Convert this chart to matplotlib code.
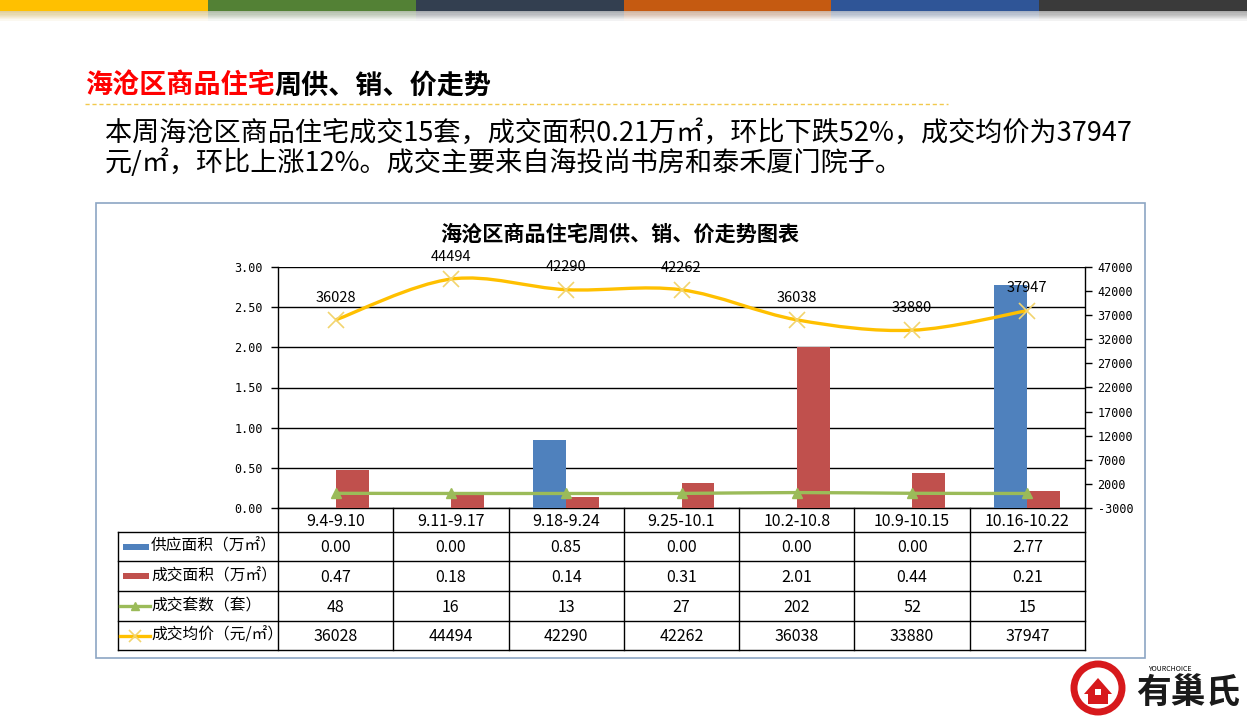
import numpy as np
import matplotlib
matplotlib.use('Agg')
import matplotlib.pyplot as plt
from matplotlib.path import Path
from matplotlib.patches import PathPatch, Rectangle, Circle, Polygon

plt.rcParams['font.family'] = ['Noto Sans CJK SC', 'DejaVu Sans']

# %% data
weeks = ['9.4-9.10', '9.11-9.17', '9.18-9.24', '9.25-10.1', '10.2-10.8', '10.9-10.15', '10.16-10.22']
supply_area = [0.00, 0.00, 0.85, 0.00, 0.00, 0.00, 2.77]
deal_area = [0.47, 0.18, 0.14, 0.31, 2.01, 0.44, 0.21]
deal_units = [48, 16, 13, 27, 202, 52, 15]
avg_price = [36028, 44494, 42290, 42262, 36038, 33880, 37947]

row_labels = ['供应面积（万㎡）', '成交面积（万㎡）', '成交套数（套）', '成交均价（元/㎡）']
row_fmt = ['{:.2f}', '{:.2f}', '{:d}', '{:d}']
rows = [supply_area, deal_area, deal_units, avg_price]

page_title_red = '海沧区商品住宅'
page_title_black = '周供、销、价走势'
summary = ['本周海沧区商品住宅成交15套，成交面积0.21万㎡，环比下跌52%，成交均价为37947',
           '元/㎡，环比上涨12%。成交主要来自海投尚书房和泰禾厦门院子。']
chart_title = '海沧区商品住宅周供、销、价走势图表'

c_blue = '#4F81BD'
c_red = '#C0504D'
c_green = '#9BBB59'
c_yellow = '#FFC000'
c_xmark = '#F2D46E'

W, H = 1247, 718


def fr(x0, y0, x1, y1):
    # pixel box -> figure fraction rect
    return [x0 / W, 1 - y1 / H, (x1 - x0) / W, (y1 - y0) / H]


def smooth_path(xs, ys):
    # excel-like smoothed line (catmull-rom as bezier)
    pts = np.column_stack([xs, ys]).astype(float)
    n = len(pts)
    verts = [pts[0]]
    codes = [Path.MOVETO]
    for i in range(n - 1):
        p0 = pts[max(i - 1, 0)]
        p1 = pts[i]
        p2 = pts[i + 1]
        p3 = pts[min(i + 2, n - 1)]
        verts += [p1 + (p2 - p0) / 6, p2 - (p3 - p1) / 6, p2]
        codes += [Path.CURVE4] * 3
    return Path(verts, codes)


fig = plt.figure(figsize=(W / 100, H / 100), dpi=100)

# %% background / slide decorations in pixel coords
bg = fig.add_axes([0, 0, 1, 1])
bg.set_xlim(0, W)
bg.set_ylim(H, 0)
bg.set_axis_off()

stripe_cols = ['#FFC000', '#538135', '#333F50', '#C55A11', '#2F5597', '#3A3A3A']
sw = W / len(stripe_cols)
for i, c in enumerate(stripe_cols):
    bg.add_patch(Rectangle((i * sw, 0), sw, 11, color=c, lw=0))
    for k in range(8):
        bg.add_patch(Rectangle((i * sw, 11 + k * 1.2), sw, 1.2, color=c, alpha=0.35 * (1 - k / 8), lw=0))
        bg.add_patch(Rectangle((i * sw, 11 + k * 1.2), sw, 1.2, color='#808080', alpha=0.25 * (1 - k / 8), lw=0))

t1 = bg.text(85, 86, page_title_red, color='#FF0000', fontsize=19.5, fontweight='bold', va='center', ha='left')
bg.annotate(page_title_black, xy=(1, 0), xycoords=t1, va='bottom', ha='left',
            fontsize=19.5, fontweight='bold', color='black')
bg.plot([85, 948], [104, 104], color='#F2C94C', lw=1, ls=(0, (3, 2)))

for i, line in enumerate(summary):
    bg.text(105, 133 + i * 30, line, fontsize=19.5, va='center', ha='left', color='black')

# chart frame
bg.add_patch(Rectangle((96, 203), 1049, 455, fill=False, ec='#8CA5C4', lw=1.2))
bg.text(620, 234, chart_title, fontsize=15.2, fontweight='bold', ha='center', va='center')

# %% main chart
px_l, px_r, px_t, px_b = 278, 1085, 267, 508
ax = fig.add_axes(fr(px_l, px_t, px_r, px_b))
ax.set_facecolor('none')
x = np.arange(len(weeks))
bw = 0.286
ax.bar(x - bw / 2, supply_area, bw, color=c_blue, zorder=2)
ax.bar(x + bw / 2, deal_area, bw, color=c_red, zorder=2)
ax.set_xlim(-0.5, len(weeks) - 0.5)
ax.set_ylim(0, 3)
ax.set_yticks(np.arange(0, 3.01, 0.5))
ax.set_yticklabels(['{:.2f}'.format(v) for v in np.arange(0, 3.01, 0.5)],
                   fontfamily='DejaVu Sans Mono', fontsize=8.5)
ax.set_xticks([])
ax.yaxis.grid(True, color='black', lw=1)
ax.set_axisbelow(True)
ax.tick_params(axis='y', direction='out', length=5, width=1, pad=6)
for s in ['top', 'bottom', 'right']:
    ax.spines[s].set_visible(False)
ax.spines['left'].set_linewidth(1)

ax2 = ax.twinx()
ax2.set_ylim(-3000, 47000)
ax2.set_yticks(np.arange(-3000, 47001, 5000))
ax2.set_yticklabels([str(v) for v in np.arange(-3000, 47001, 5000)],
                    fontfamily='DejaVu Sans Mono', fontsize=8.5)
ax2.tick_params(axis='y', direction='out', length=5, width=1, pad=4)
for s in ['top', 'bottom', 'left']:
    ax2.spines[s].set_visible(False)
ax2.spines['right'].set_linewidth(1)

ax2.add_patch(PathPatch(smooth_path(x, deal_units), fill=False, ec=c_green, lw=2.4, zorder=3))
ax2.plot(x, deal_units, ls='none', marker='^', ms=7, color=c_green, zorder=4)
ax2.add_patch(PathPatch(smooth_path(x, avg_price), fill=False, ec=c_yellow, lw=2.4, zorder=3))
ax2.plot(x, avg_price, ls='none', marker='x', ms=11, mew=1.2, color=c_xmark, zorder=4)
for xi, v in zip(x, avg_price):
    ax2.annotate(str(v), (xi, v), xytext=(0, 16), textcoords='offset points',
                 ha='center', va='center', fontsize=10.5)

# %% data table under the chart
col_w = (px_r - px_l) / len(weeks)
edges = px_l + np.arange(len(weeks) + 1) * col_w
row_y = [508, 532, 561, 591, 621, 650]
tl = 118
lw_t = 1
# horizontal lines
bg.plot([px_l, px_r], [row_y[0], row_y[0]], color='black', lw=lw_t)
for y in row_y[1:]:
    bg.plot([tl, px_r], [y, y], color='black', lw=lw_t)
# vertical lines
for e in edges:
    bg.plot([e, e], [row_y[0], row_y[-1]], color='black', lw=lw_t)
bg.plot([tl, tl], [row_y[1], row_y[-1]], color='black', lw=lw_t)

for j, wk in enumerate(weeks):
    bg.text((edges[j] + edges[j + 1]) / 2, (row_y[0] + row_y[1]) / 2 + 1, wk,
            ha='center', va='center', fontsize=11.5)
for i, (lab, vals, fmt) in enumerate(zip(row_labels, rows, row_fmt)):
    yc = (row_y[i + 1] + row_y[i + 2]) / 2
    bg.text(151, yc, lab, ha='left', va='center', fontsize=11.3)
    for j, v in enumerate(vals):
        bg.text((edges[j] + edges[j + 1]) / 2, yc + 1, fmt.format(v),
                ha='center', va='center', fontsize=11.5)

# legend keys in the table
yk = [(row_y[k] + row_y[k + 1]) / 2 for k in range(1, 5)]
bg.add_patch(Rectangle((123, yk[0] - 3), 26, 6, color=c_blue, lw=0))
bg.add_patch(Rectangle((123, yk[1] - 3), 26, 6, color=c_red, lw=0))
bg.plot([120, 150], [yk[2], yk[2]], color=c_green, lw=2.4)
bg.plot([135], [yk[2]], marker='^', ms=6, color=c_green)
bg.plot([120, 150], [yk[3], yk[3]], color=c_yellow, lw=2.4)
bg.plot([135], [yk[3]], marker='x', ms=8, mew=1.2, color=c_xmark)

# %% logo
bg.add_patch(Circle((1098, 688), 24, fill=False, ec='#D7191C', lw=5))
bg.add_patch(Polygon([[1084, 694], [1098, 678], [1112, 694], [1108, 694], [1108, 704], [1088, 704], [1088, 694]],
                     color='#D7191C', lw=0))
bg.add_patch(Rectangle((1095, 689), 6, 6, color='white', lw=0))
bg.text(1170, 669, 'YOURCHOICE', fontsize=5, style='italic', color='black', ha='center', va='center')
bg.text(1188, 692, '有巢氏', fontsize=25, fontweight='bold', color='#1a1a1a',
        ha='center', va='center')

plt.savefig('out.png', dpi=100)
